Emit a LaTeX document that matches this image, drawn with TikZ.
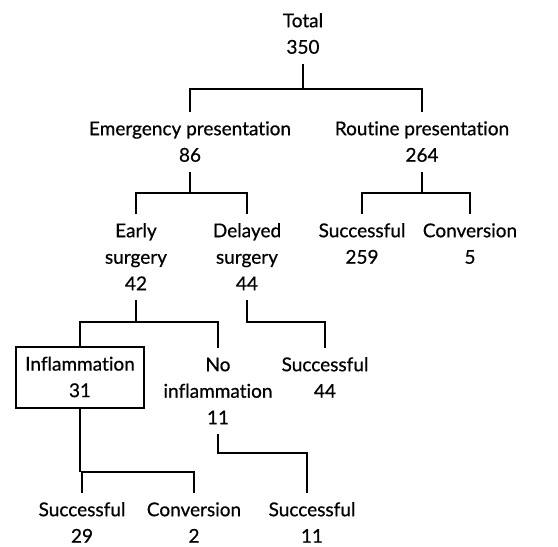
\documentclass[tikz,border=0pt]{standalone}
\usepackage{fontspec}
\setmainfont{Lato}[FakeBold=0.6,Ligatures=NoCommon]
\newcommand\ms{\rule[-5pt]{0pt}{23pt}}
\begin{document}
\begin{tikzpicture}[x=1pt,y=-1pt,
  lab/.style={anchor=north,align=center,inner xsep=2pt,inner ysep=5pt,
    font=\fontsize{19}{26.5}\selectfont},
  boxlab/.style={lab,draw,line width=2.2pt,minimum width=128pt,inner ysep=5.5pt},
  conn/.style={line width=2.6pt,line join=miter}]
\useasboundingbox (0,0) rectangle (558,547);
\coordinate (L1) at (0,89);
\coordinate (L2) at (0,193);
\coordinate (L4) at (0,322);
\coordinate (L5) at (0,472);
\coordinate (L6) at (0,453);

\node[lab] (total) at (303,4) {\ms Total\\\ms 350};
\node[lab] (emer) at (190,112) {\ms Emergency presentation\\\ms 86};
\node[lab] (rout) at (422,112) {\ms Routine presentation\\\ms 264};
\node[lab] (early) at (136,214) {\ms Early\\\ms surgery\\\ms 42};
\node[lab] (delay) at (247,214) {\ms Delayed\\\ms surgery\\\ms 44};
\node[lab] (succ1) at (362,214) {\ms Successful\\\ms 259};
\node[lab] (conv1) at (470,214) {\ms Conversion\\\ms 5};
\node[boxlab] (infl) at (80,346) {\ms Inflammation\\\ms 31};
\node[lab] (noinf) at (218,348) {\ms No\\\ms inflammation\\\ms 11};
\node[lab] (succ2) at (325,348) {\ms Successful\\\ms 44};
\node[lab] (succ3) at (82,493) {\ms Successful\\\ms 29};
\node[lab] (conv2) at (194,493) {\ms Conversion\\\ms 2};
\node[lab] (succ4) at (312,493) {\ms Successful\\\ms 11};

\draw[conn] (total.south) -- (total.south |- L1);
\draw[conn] (emer.north) |- (rout.north |- L1) -- (rout.north);
\draw[conn] (emer.south) -- (emer.south |- L2);
\draw[conn] (early.north) |- (delay.north |- L2) -- (delay.north);
\draw[conn] (rout.south) -- (rout.south |- L2);
\draw[conn] (succ1.north) |- (conv1.north |- L2) -- (conv1.north);
\draw[conn] (early.south) -- (early.south |- L4);
\draw[conn] (infl.north) |- (noinf.north |- L4) -- (noinf.north);
\draw[conn] (delay.south) -- (delay.south |- L4) -| (succ2.north);
\draw[conn] (infl.south) -- (infl.south |- L5);
\draw[conn] (succ3.north) |- (conv2.north |- L5) -- (conv2.north);
\draw[conn] (noinf.south) -- (noinf.south |- L6) -| ([xshift=-5pt]succ4.north);
\end{tikzpicture}
\end{document}
